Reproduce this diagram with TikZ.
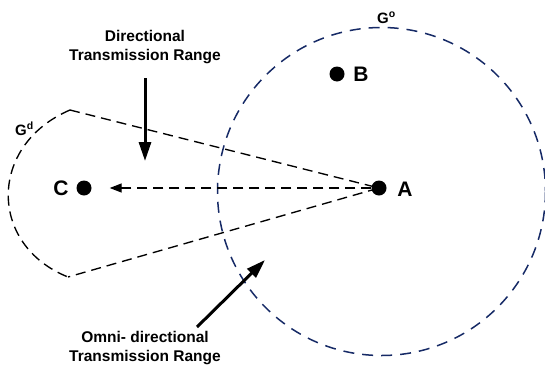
\documentclass[tikz,border=0pt]{standalone}
\usepackage{fontspec}
\setmainfont{Liberation Sans}
\usepackage{xcolor}
\usetikzlibrary{arrows.meta, positioning}
\definecolor{omniblue}{RGB}{22,42,102}

\begin{document}
\begin{tikzpicture}[x=1pt, y=-1pt, font=\bfseries,
  dot/.style={circle, fill=black, inner sep=0pt, minimum size=15pt},
  lbl/.style={inner sep=0pt, font=\bfseries\fontsize{21}{24}\selectfont},
  glbl/.style={inner sep=0pt, anchor=base west, font=\bfseries\fontsize{15}{18}\selectfont},
  note/.style={inner sep=0pt, align=center, font=\bfseries\fontsize{15.5}{19}\selectfont},
  dsh/.style={dash pattern=on 10pt off 6pt, line width=1.35pt},
  omni/.style={omniblue, dash pattern=on 11pt off 8pt, line width=1.5pt},
  arr/.style={-{Triangle[length=19pt, width=12pt]}, line width=3pt}]
  \useasboundingbox (0,0) rectangle (545,367);
  % stations
  \node[dot] (A) at (379,188) {};
  \node[dot] (B) at (337,74) {};
  \node[dot] (C) at (84,188) {};
  \node[lbl] (Alab) at (405,189) {A};
  \node[lbl] (Blab) at (361,74) {B};
  \node[lbl] (Clab) at (61,188) {C};
  % ranges
  \draw[omni] (381.5,191.5) circle[radius=164];
  \node[glbl] (Go) at (377,23) {G\textsuperscript{o}};
  \coordinate (dtop) at (70,110);
  \coordinate (dbot) at (68,277);
  \draw[dsh] (dtop) -- (A.center) -- (dbot);
  \draw[dsh] (dtop) .. controls (-12,145) and (-12,245) .. (dbot);
  \node[glbl] (Gd) at (15,135) {G\textsuperscript{d}};
  \draw[dsh, -{Triangle[length=12pt, width=9pt]}, shorten >=18pt] (A) -- (C);
  % notes
  \node[note] (dirtxt) at (145,47.5) {Directional\\Transmission Range};
  \coordinate (dirtip) at (145,161);
  \draw[arr, shorten <=14pt] (dirtxt.south) -- (dirtip);
  \node[note] (omnitxt) at (145,348.5) {Omni- directional\\Transmission Range};
  \coordinate (omnitail) at (197,327);
  \coordinate (omnitip) at (265,260);
  \draw[arr] (omnitail) -- (omnitip);
\end{tikzpicture}
\end{document}
